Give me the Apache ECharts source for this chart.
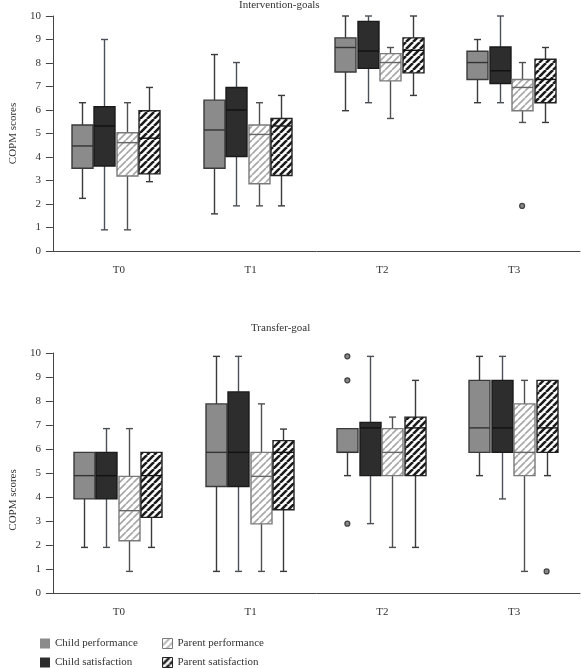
<!DOCTYPE html>
<html>
<head>
<meta charset="utf-8">
<script src="https://cdn.jsdelivr.net/npm/echarts@6/dist/echarts.min.js"></script>
<style>
html,body{margin:0;padding:0;background:#fff;}
#chart{width:581px;height:668px;}
</style>
</head>
<body>
<div id="chart"></div>
<script>
// ---------- data ----------
var categories = ['T0', 'T1', 'T2', 'T3'];
var seriesNames = ['Child performance', 'Child satisfaction', 'Parent performance', 'Parent satisfaction'];

// Intervention-goals: [min, Q1, median, Q3, max] per time point
var intervChildPerf = [[2.24, 3.52, 4.47, 5.36, 6.31], [1.58, 3.52, 5.15, 6.42, 8.36], [5.97, 7.62, 8.66, 9.07, 10.0], [6.31, 7.30, 8.02, 8.50, 9.00]];
var intervChildSat  = [[0.90, 3.62, 5.32, 6.14, 9.00], [1.92, 4.02, 6.00, 6.96, 8.02], [6.31, 7.77, 8.51, 9.77, 10.0], [6.31, 7.13, 7.67, 8.68, 10.0]];
var intervParentPerf = [[0.90, 3.19, 4.61, 5.03, 6.31], [1.92, 2.86, 4.96, 5.36, 6.31], [5.64, 7.24, 8.02, 8.40, 8.66], [5.47, 5.97, 6.96, 7.30, 8.02]];
var intervParentSat  = [[2.95, 3.28, 4.80, 5.97, 6.96], [1.92, 3.21, 5.32, 5.64, 6.62], [6.62, 7.58, 8.54, 9.07, 10.0], [5.47, 6.31, 7.30, 8.16, 8.66]];
var intervOutliers = [[], [], [[3, 1.92]], []]; // per series: [categoryIndex, value]

// Transfer-goal
var transChildPerf = [[1.90, 3.92, 4.89, 5.86, 5.86], [0.90, 4.44, 5.86, 7.88, 9.86], [4.89, 5.86, 5.86, 6.85, 6.85], [4.89, 5.86, 6.88, 8.86, 9.86]];
var transChildSat  = [[1.90, 3.92, 4.89, 5.86, 6.85], [0.90, 4.44, 5.86, 8.38, 9.86], [2.89, 4.89, 6.88, 7.11, 9.86], [3.92, 5.86, 6.88, 8.86, 9.86]];
var transParentPerf = [[0.90, 2.18, 3.43, 4.86, 6.85], [0.90, 2.88, 4.86, 5.86, 7.88], [1.90, 4.89, 5.86, 6.85, 7.33], [0.90, 4.89, 5.86, 7.88, 8.86]];
var transParentSat  = [[1.90, 3.15, 4.89, 5.86, 5.86], [0.90, 3.47, 5.86, 6.35, 6.83], [1.90, 4.89, 6.88, 7.33, 8.86], [4.89, 5.86, 6.88, 8.86, 8.86]];
var transOutliers = [[[2, 9.86], [2, 8.86], [2, 2.89]], [], [], [[3, 0.90]]];

var yTickLabels = ['0','1','2','3','4','5','6','7','8','9','10'];

// ---------- styles ----------
var FONT = '"Liberation Serif", "DejaVu Serif", serif';
var BOX_W = 21, CAP_W = 7;

function hatch(stroke, width, size) {
  var c = document.createElement('canvas');
  c.width = size; c.height = size;
  var ctx = c.getContext('2d');
  ctx.fillStyle = '#ffffff';
  ctx.fillRect(0, 0, size, size);
  ctx.strokeStyle = stroke;
  ctx.lineWidth = width;
  ctx.beginPath();
  for (var k = -1; k <= 1; k++) {
    ctx.moveTo(k * size, size);
    ctx.lineTo(k * size + size, 0);
  }
  ctx.stroke();
  return { image: c, repeat: 'repeat' };
}

var styles = [
  { fill: '#8b8b8b', border: '#3a3a3a', whisker: '#3a3a3a', median: '#333333' },
  { fill: '#2d2d2d', border: '#1a1a1a', whisker: '#4b5058', median: '#111111' },
  { fill: hatch('#a9a9a9', 1.7, 7), border: '#7a7a7a', whisker: '#505050', median: '#666666' },
  { fill: hatch('#1c1c1c', 2.6, 7), border: '#222222', whisker: '#3a3a3a', median: '#111111' }
];

var topOffsets = [-37, -14.5, 8, 30.5];
var botOffsets = [-35, -12.5, 10, 32.5];

function boxRenderer(off, st) {
  return function (params, api) {
    var c = api.value(0);
    var lo = api.coord([c, api.value(1)]);
    var q1 = api.coord([c, api.value(2)]);
    var md = api.coord([c, api.value(3)]);
    var q3 = api.coord([c, api.value(4)]);
    var hi = api.coord([c, api.value(5)]);
    var cx = Math.round(lo[0] + off) + 0.5;
    var hw = BOX_W / 2, cw = CAP_W / 2;
    var ws = { stroke: st.whisker, lineWidth: 1.4 };
    var ch = [];
    if (hi[1] < q3[1] - 0.5) {
      ch.push({ type: 'line', shape: { x1: cx, y1: hi[1], x2: cx, y2: q3[1] }, style: ws });
      ch.push({ type: 'line', shape: { x1: cx - cw, y1: hi[1], x2: cx + cw, y2: hi[1] }, style: ws });
    }
    if (lo[1] > q1[1] + 0.5) {
      ch.push({ type: 'line', shape: { x1: cx, y1: q1[1], x2: cx, y2: lo[1] }, style: ws });
      ch.push({ type: 'line', shape: { x1: cx - cw, y1: lo[1], x2: cx + cw, y2: lo[1] }, style: ws });
    }
    ch.push({ type: 'rect', shape: { x: cx - hw, y: q3[1], width: 2 * hw, height: q1[1] - q3[1] },
      style: { fill: st.fill, stroke: st.border, lineWidth: 1.4 } });
    ch.push({ type: 'line', shape: { x1: cx - hw, y1: md[1], x2: cx + hw, y2: md[1] },
      style: { stroke: st.median, lineWidth: 1.4 } });
    return { type: 'group', children: ch };
  };
}

var boxSets = [
  { data: [intervChildPerf, intervChildSat, intervParentPerf, intervParentSat], outliers: intervOutliers, offsets: topOffsets },
  { data: [transChildPerf, transChildSat, transParentPerf, transParentSat], outliers: transOutliers, offsets: botOffsets }
];

var series = [];
boxSets.forEach(function (set, gi) {
  set.data.forEach(function (arr, si) {
    series.push({
      type: 'custom',
      name: seriesNames[si],
      xAxisIndex: gi, yAxisIndex: gi,
      renderItem: boxRenderer(set.offsets[si], styles[si]),
      encode: { x: 0, y: [1, 2, 3, 4, 5] },
      itemStyle: { color: styles[si].fill, borderColor: styles[si].border, borderWidth: 1 },
      data: arr.map(function (d, i) { return [i].concat(d); }),
      silent: true
    });
    if (set.outliers[si].length) {
      series.push({
        type: 'scatter',
        name: 'outlier-' + gi + '-' + si,
        xAxisIndex: gi, yAxisIndex: gi,
        symbol: 'circle', symbolSize: 5,
        symbolOffset: [set.offsets[si], 0],
        itemStyle: { color: '#6a6a6a', borderColor: '#222', borderWidth: 1.2 },
        data: set.outliers[si],
        silent: true
      });
    }
  });
});

function xAxisDef(gi) {
  return {
    type: 'category', gridIndex: gi, data: categories, boundaryGap: true,
    axisLine: { lineStyle: { color: '#444', width: 1 } },
    axisTick: { alignWithLabel: true, length: 8, lineStyle: { color: '#444' } },
    axisLabel: { color: '#333', fontFamily: FONT, fontSize: 11, margin: 14 },
    splitLine: { show: false }
  };
}
function yAxisDef(gi, namePad) {
  return {
    type: 'value', gridIndex: gi, min: 0, max: 10, interval: 1,
    name: 'COPM scores', nameLocation: 'middle', nameGap: 33,
    nameTextStyle: { color: '#333', fontFamily: FONT, fontSize: 11, padding: namePad },
    axisLine: { show: true, lineStyle: { color: '#444', width: 1 } },
    axisTick: { show: true, length: 7, lineStyle: { color: '#444' } },
    axisLabel: { color: '#333', fontFamily: FONT, fontSize: 11, margin: 12,
      formatter: function (v) { return yTickLabels[Math.round(v)]; } },
    splitLine: { show: false }
  };
}

var chart = echarts.init(document.getElementById('chart'), null, { renderer: 'canvas' });
chart.setOption({
  backgroundColor: '#ffffff',
  animation: false,
  title: [
    { text: 'Intervention-goals', left: 239, top: 0, padding: 0,
      textStyle: { fontFamily: FONT, fontSize: 11, fontWeight: 'normal', color: '#333' } },
    { text: 'Transfer-goal', left: 251, top: 323, padding: 0,
      textStyle: { fontFamily: FONT, fontSize: 11, fontWeight: 'normal', color: '#333' } }
  ],
  grid: [
    { left: 44, right: 1, top: 16, bottom: 417 },
    { left: 44, right: 1, top: 353, bottom: 75 }
  ],
  xAxis: [xAxisDef(0), xAxisDef(1)],
  yAxis: [yAxisDef(0, [0, 0, 0, 0]), yAxisDef(1, [0, 54, 0, 0])],
  legend: [
    { data: ['Child performance', 'Child satisfaction'], orient: 'vertical', left: 40, top: 638,
      itemWidth: 10, itemHeight: 10, itemGap: 8, icon: 'rect', padding: 0,
      itemStyle: { borderWidth: 0 },
      textStyle: { fontFamily: FONT, fontSize: 11, color: '#333' } },
    { data: ['Parent performance', 'Parent satisfaction'], orient: 'vertical', left: 162, top: 638,
      itemWidth: 10, itemHeight: 10, itemGap: 8, icon: 'rect', padding: 0,
      itemStyle: { borderWidth: 1 },
      textStyle: { fontFamily: FONT, fontSize: 11, color: '#333' } }
  ],
  series: series
});
</script>
</body>
</html>
